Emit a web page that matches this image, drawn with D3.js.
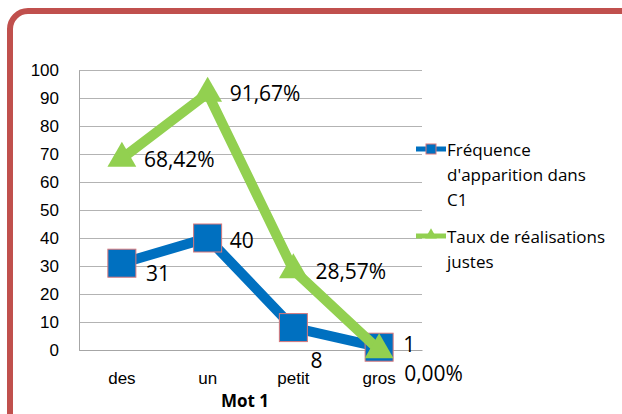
<!DOCTYPE html>
<html>
<head>
<meta charset="utf-8">
<script src="https://cdn.jsdelivr.net/npm/d3@7"></script>
<style>
  body { margin: 0; background: #fff; }
  svg { display: block; font-family: "Open Sans", "Noto Sans", sans-serif; }
</style>
</head>
<body>
<svg id="chart"></svg>
<script>
const width = 622;
const height = 414;
const margin = { top: 70, right: 200, bottom: 64, left: 79 };

// données
const mots = ["des", "un", "petit", "gros"];
const frequence = [31, 40, 8, 1];
const taux = [68.42, 91.67, 28.57, 0];
const tauxLabels = ["68,42%", "91,67%", "28,57%", "0,00%"];
const yTicks = [0, 10, 20, 30, 40, 50, 60, 70, 80, 90, 100];

const svg = d3.select("#chart")
    .attr("width", width)
    .attr("height", height);

// cadre arrondi rouge
svg.append("rect")
    .attr("x", 10)
    .attr("y", 11)
    .attr("width", 640)
    .attr("height", 440)
    .attr("rx", 18)
    .attr("fill", "none")
    .attr("stroke", "#c0504d")
    .attr("stroke-width", 6);

const x = d3.scaleBand()
    .domain(mots)
    .range([margin.left, width - margin.right]);

const y = d3.scaleLinear()
    .domain([0, 100])
    .range([height - margin.bottom, margin.top]);

// grille
svg.append("g")
    .selectAll("line")
    .data(yTicks)
    .enter().append("line")
    .attr("x1", margin.left)
    .attr("x2", width - margin.right)
    .attr("y1", d => y(d) + 0.5)
    .attr("y2", d => y(d) + 0.5)
    .attr("stroke", "#b3b3b3")
    .attr("stroke-width", 1);

// axe Y
const yAxis = svg.append("g")
    .attr("transform", `translate(${margin.left}, 0)`)
    .call(d3.axisLeft(y).tickValues(yTicks).tickSize(0).tickPadding(20));
yAxis.select(".domain").attr("stroke", "#a6a6a6");
yAxis.selectAll("text").style("font-size", "17px").attr("fill", "#000");

// axe X
const xAxis = svg.append("g")
    .attr("transform", `translate(0, ${height - margin.bottom})`)
    .call(d3.axisBottom(x).tickSize(0).tickPadding(22));
xAxis.select(".domain").attr("stroke", "#a6a6a6");
xAxis.selectAll("text").style("font-size", "17px").attr("fill", "#000");

svg.append("text")
    .attr("x", 245)
    .attr("y", 407)
    .attr("text-anchor", "middle")
    .style("font-size", "17px")
    .style("font-weight", "bold")
    .text("Mot 1");

const cx = d => x(d) + x.bandwidth() / 2;
const line = d3.line().x(d => cx(d.mot)).y(d => y(d.v));

const freqData = mots.map((m, i) => ({ mot: m, v: frequence[i] }));
const tauxData = mots.map((m, i) => ({ mot: m, v: taux[i], label: tauxLabels[i] }));

// série bleue
svg.append("path")
    .datum(freqData)
    .attr("d", line)
    .attr("fill", "none")
    .attr("stroke", "#0070c0")
    .attr("stroke-width", 10)
    .attr("stroke-linejoin", "miter");

svg.selectAll("rect.sq")
    .data(freqData)
    .enter().append("rect")
    .attr("class", "sq")
    .attr("x", d => cx(d.mot) - 14)
    .attr("y", d => y(d.v) - 14)
    .attr("width", 28)
    .attr("height", 28)
    .attr("fill", "#0070c0")
    .attr("stroke", "#d9777a")
    .attr("stroke-width", 1);

// série verte
svg.append("path")
    .datum(tauxData)
    .attr("d", line)
    .attr("fill", "none")
    .attr("stroke", "#92d050")
    .attr("stroke-width", 10)
    .attr("stroke-linejoin", "miter");

const tri = d3.symbol().type(d3.symbolTriangle).size(360);
svg.selectAll("path.tri")
    .data(tauxData)
    .enter().append("path")
    .attr("class", "tri")
    .attr("d", tri)
    .attr("transform", d => `translate(${cx(d.mot)}, ${y(d.v)})`)
    .attr("fill", "#92d050");

// étiquettes de données
const freqOffsets = [[24, 18], [22, 10], [17, 40], [24, 5]];
svg.selectAll("text.fl")
    .data(freqData)
    .enter().append("text")
    .attr("class", "fl")
    .attr("x", (d, i) => cx(d.mot) + freqOffsets[i][0])
    .attr("y", (d, i) => y(d.v) + freqOffsets[i][1])
    .style("font-size", "21px")
    .text(d => d.v);

const tauxOffsets = [[22, 9], [22, 8], [22, 9], [25, 31]];
svg.selectAll("text.tl")
    .data(tauxData)
    .enter().append("text")
    .attr("class", "tl")
    .attr("x", (d, i) => cx(d.mot) + tauxOffsets[i][0])
    .attr("y", (d, i) => y(d.v) + tauxOffsets[i][1])
    .style("font-size", "21px")
    .text(d => d.label);

// légende
const legend = [
    { color: "#0070c0", marker: "square", lines: ["Fréquence", "d'apparition dans", "C1"], y: 149 },
    { color: "#92d050", marker: "triangle", lines: ["Taux de réalisations", "justes"], y: 236 }
];

legend.forEach(l => {
    const g = svg.append("g");
    g.append("line")
        .attr("x1", 416).attr("x2", 446)
        .attr("y1", l.y).attr("y2", l.y)
        .attr("stroke", l.color)
        .attr("stroke-width", 5);
    if (l.marker === "square") {
        g.append("rect")
            .attr("x", 426).attr("y", l.y - 5)
            .attr("width", 10).attr("height", 10)
            .attr("fill", l.color)
            .attr("stroke", "#d9777a");
    } else {
        g.append("path")
            .attr("d", d3.symbol().type(d3.symbolTriangle).size(60))
            .attr("transform", `translate(431, ${l.y - 1})`)
            .attr("fill", l.color);
    }
    l.lines.forEach((t, i) => {
        g.append("text")
            .attr("x", 447)
            .attr("y", l.y + 7 + i * 25)
            .style("font-size", "17px")
            .text(t);
    });
});
</script>
</body>
</html>
